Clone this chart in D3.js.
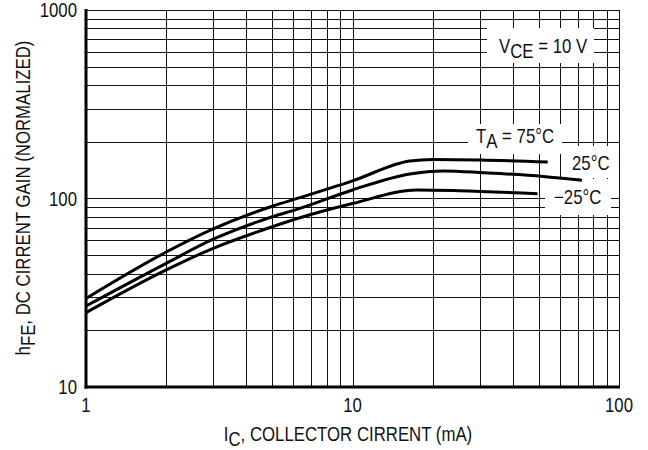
<!DOCTYPE html>
<html>
<head>
<meta charset="utf-8">
<script src="https://cdn.jsdelivr.net/npm/d3@7"></script>
<style>
  body { margin: 0; background: #fff; }
  svg text { font-family: "Liberation Sans Narrow", "Arial Narrow", "Liberation Sans", Arial, sans-serif; fill: #111; }
</style>
</head>
<body>
<div id="chart"></div>
<script>
// collector current (mA) and normalized hFE
const ic75 = [1, 2, 3, 5, 6.35, 10, 16.4, 20, 30, 54];
const hfe75 = [29.5, 52, 69, 91, 101, 124, 158, 161, 160, 156];
const ic25 = [1, 2, 3, 5, 6.35, 10, 16.4, 22, 31, 52, 72.6];
const hfe25 = [26.9, 45.3, 60.8, 80, 88.7, 111, 135, 140, 137, 131, 125];
const icm25 = [1, 2, 3, 5, 6.35, 10, 17.5, 25, 49.5];
const hfem25 = [24.8, 41.8, 54.4, 70.8, 79, 94, 111, 110, 106];
const xTicks = [1, 10, 100];
const yTicks = [10, 100, 1000];

const width = 648, height = 450;
const margin = {top: 10, right: 29, bottom: 63, left: 86};
const squeeze = 0.84; // the original type is a condensed face

const svg = d3.select("#chart").append("svg")
    .attr("width", width)
    .attr("height", height);

const x = d3.scaleLog().domain([1, 100]).range([margin.left, width - margin.right]);
const y = d3.scaleLog().domain([10, 1000]).range([height - margin.bottom, margin.top]);

// every 1..9 step of each decade gets a grid line
function gridValues(lo, hi) {
    let out = [];
    for (let d = lo; d < hi; d *= 10)
        for (let k = 1; k <= 10; k++) out.push(d * k);
    return Array.from(new Set(out));
}

// text placed at (tx, ty), narrowed horizontally
function label(tx, ty, extra) {
    return svg.append("text")
        .attr("transform", `translate(${tx},${ty}) ${extra || ""} scale(${squeeze},1)`)
        .attr("font-size", 20);
}

// text with a subscript part, like I<sub>C</sub>
function subLabel(t, main, sub, rest) {
    t.append("tspan").text(main);
    t.append("tspan").attr("dy", 5).text(sub);
    t.append("tspan").attr("dy", -5).text(rest);
    return t;
}

const grid = svg.append("g").attr("stroke", "#111").attr("stroke-width", 1).attr("shape-rendering", "crispEdges");
grid.selectAll(".vx").data(gridValues(1, 100)).join("line")
    .attr("x1", d => Math.round(x(d)) + 0.5).attr("x2", d => Math.round(x(d)) + 0.5)
    .attr("y1", y(1000)).attr("y2", y(10));
grid.selectAll(".hy").data(gridValues(10, 1000)).join("line")
    .attr("y1", d => Math.round(y(d)) + 0.5).attr("y2", d => Math.round(y(d)) + 0.5)
    .attr("x1", x(1)).attr("x2", x(100));

// white boxes behind the annotations
const boxes = [[487, 28, 107, 35], [468, 124, 94, 30], [562, 146, 50, 32], [545, 179, 66, 36]];
svg.append("g").selectAll("rect").data(boxes).join("rect")
    .attr("x", d => d[0]).attr("y", d => d[1]).attr("width", d => d[2]).attr("height", d => d[3])
    .attr("fill", "#fff");

// thick left and bottom axes
svg.append("line").attr("x1", x(1)).attr("x2", x(1)).attr("y1", y(1000) - 1).attr("y2", y(10) + 1.5)
    .attr("stroke", "#000").attr("stroke-width", 3);
svg.append("line").attr("x1", x(1) - 1.5).attr("x2", x(100) + 1).attr("y1", y(10)).attr("y2", y(10))
    .attr("stroke", "#000").attr("stroke-width", 3);

const line = d3.line().x(d => x(d[0])).y(d => y(d[1])).curve(d3.curveMonotoneX);
const series = [d3.zip(ic75, hfe75), d3.zip(ic25, hfe25), d3.zip(icm25, hfem25)];
svg.append("g").selectAll("path").data(series).join("path")
    .attr("d", line)
    .attr("fill", "none")
    .attr("stroke", "#000")
    .attr("stroke-width", 3)
    .attr("stroke-linecap", "butt");

// tick labels
for (const t of xTicks) label(x(t), y(10) + 25).attr("text-anchor", "middle").text(t);
for (const t of yTicks) label(x(1) - 9, y(t) + 7).attr("text-anchor", "end").text(t);

// axis titles
subLabel(label(348, 441).attr("text-anchor", "middle"), "I", "C", ", COLLECTOR CIRRENT (mA)");
subLabel(label(30, 198, "rotate(-90)").attr("text-anchor", "middle"), "h", "FE", ", DC CIRRENT GAIN (NORMALIZED)");

// annotations
subLabel(label(499, 53), "V", "CE", " = 10 V");
subLabel(label(476, 143), "T", "A", " = 75°C");
label(572, 170).text("25°C");
label(554, 204).text("\u221225°C");
</script>
</body>
</html>
